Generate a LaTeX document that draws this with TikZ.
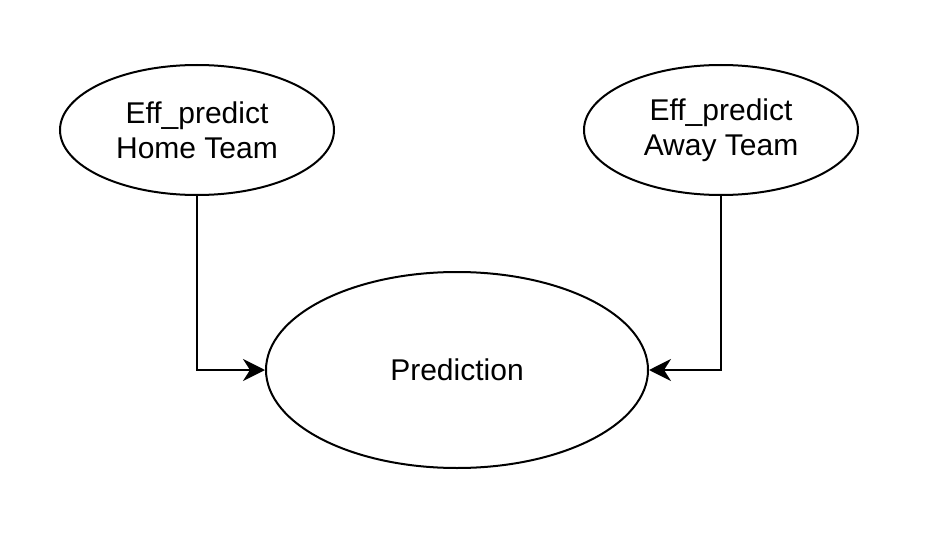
\documentclass[tikz,border=0pt]{standalone}
\usepackage{fontspec}
\setmainfont{Liberation Sans}
\usetikzlibrary{arrows.meta}
\usetikzlibrary{shapes.geometric}

\begin{document}
\begin{tikzpicture}
		[x=0.5pt, y=-0.5pt,
		font=\fontsize{15}{17.5}\selectfont,
		line width=1pt
		]
		
		% Node styles: small and large ellipses
		\tikzstyle{team node}=[ellipse,draw,inner sep=0,align=center,minimum width=137pt,minimum height=65pt];
		\tikzstyle{result node}=[ellipse,draw,inner sep=0,align=center,minimum width=191pt,minimum height=98pt];
		\tikzstyle{link}=[draw,-{Stealth[length=11pt,width=11pt,inset=3.5pt]}];
		
		% Fix the page size
		\useasboundingbox (0,0) rectangle (942,556);
		
		% The inputs
		\node(home)[team node] at (197,130) {Eff\_predict\\Home Team};
		\node(away)[team node] at (721,130) {Eff\_predict\\Away Team};
		% The output
		\node(pred)[result node] at (457,370) {Prediction};
		
		% Connectors
		\draw[link](home.south)|-(pred.west);
		\draw[link](away.south)|-(pred.east);
\end{tikzpicture}
\end{document}
